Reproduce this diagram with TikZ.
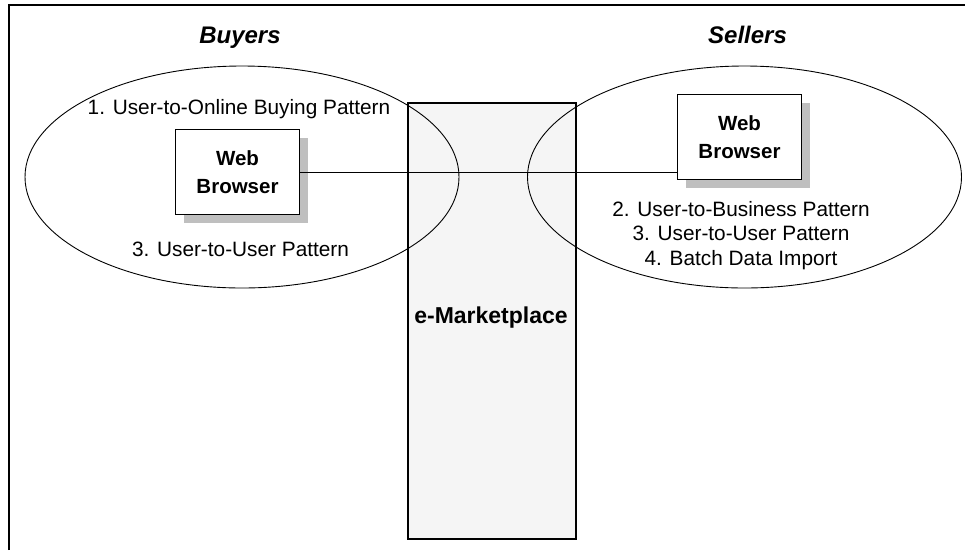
\documentclass[tikz,border=0pt]{standalone}
\usepackage{fontspec}
\setmainfont{Liberation Sans}
\usetikzlibrary{shapes.geometric,shadows}
\begin{document}
\begin{tikzpicture}[x=1pt,y=-1pt,
  lbl/.style={font=\fontsize{20.8}{24.5}\selectfont, inner sep=0pt, anchor=base},
  grp/.style={font=\fontsize{24}{28}\selectfont\bfseries\itshape, inner sep=0pt, anchor=base},
  zone/.style={ellipse, draw, line width=0.9pt, inner sep=0pt, minimum width=434pt, minimum height=222pt},
  browser/.style={draw, fill=white, line width=1.2pt, minimum width=124pt, minimum height=85pt, inner sep=0pt,
    align=center, font=\fontsize{20.5}{28}\selectfont\bfseries,
    drop shadow={shadow xshift=8pt, shadow yshift=-8pt, fill=black!25, opacity=1}},
  market/.style={draw, fill=black!4, line width=1.3pt, minimum width=168pt, minimum height=436pt, inner sep=0pt}
]
\useasboundingbox (0,0) rectangle (965,550);
% frame
\draw[line width=1.1pt] (9,550) -- (9,5) -- (965,5);
% marketplace
\node[market] (mp) at (492,321) {};
\node[font=\fontsize{23}{27}\selectfont\bfseries, inner sep=0pt, anchor=base] (mplabel) at (491,323) {e-Marketplace};
% zones
\node[zone] (buyzone) at (242,177) {};
\node[zone] (sellzone) at (744.5,177) {};
% titles
\node[grp] (buyers) at (240,43) {Buyers};
\node[grp] (sellers) at (747.5,43) {Sellers};
% browsers
\node[browser] (wb1) at (237.5,172) {Web\\Browser};
\node[browser] (wb2) at (739.5,137) {Web\\Browser};
\draw[line width=0.9pt] (wb1.east) -- (wb1.east -| wb2.west);
% labels
\node[lbl] (b1) at (239,114) {1. User-to-Online Buying Pattern};
\node[lbl] (b3) at (240.5,256) {3. User-to-User Pattern};
\node[lbl] (s2) at (741,216) {2. User-to-Business Pattern};
\node[lbl] (s3) at (741,240.5) {3. User-to-User Pattern};
\node[lbl] (s4) at (741,265) {4. Batch Data Import};
\end{tikzpicture}
\end{document}
